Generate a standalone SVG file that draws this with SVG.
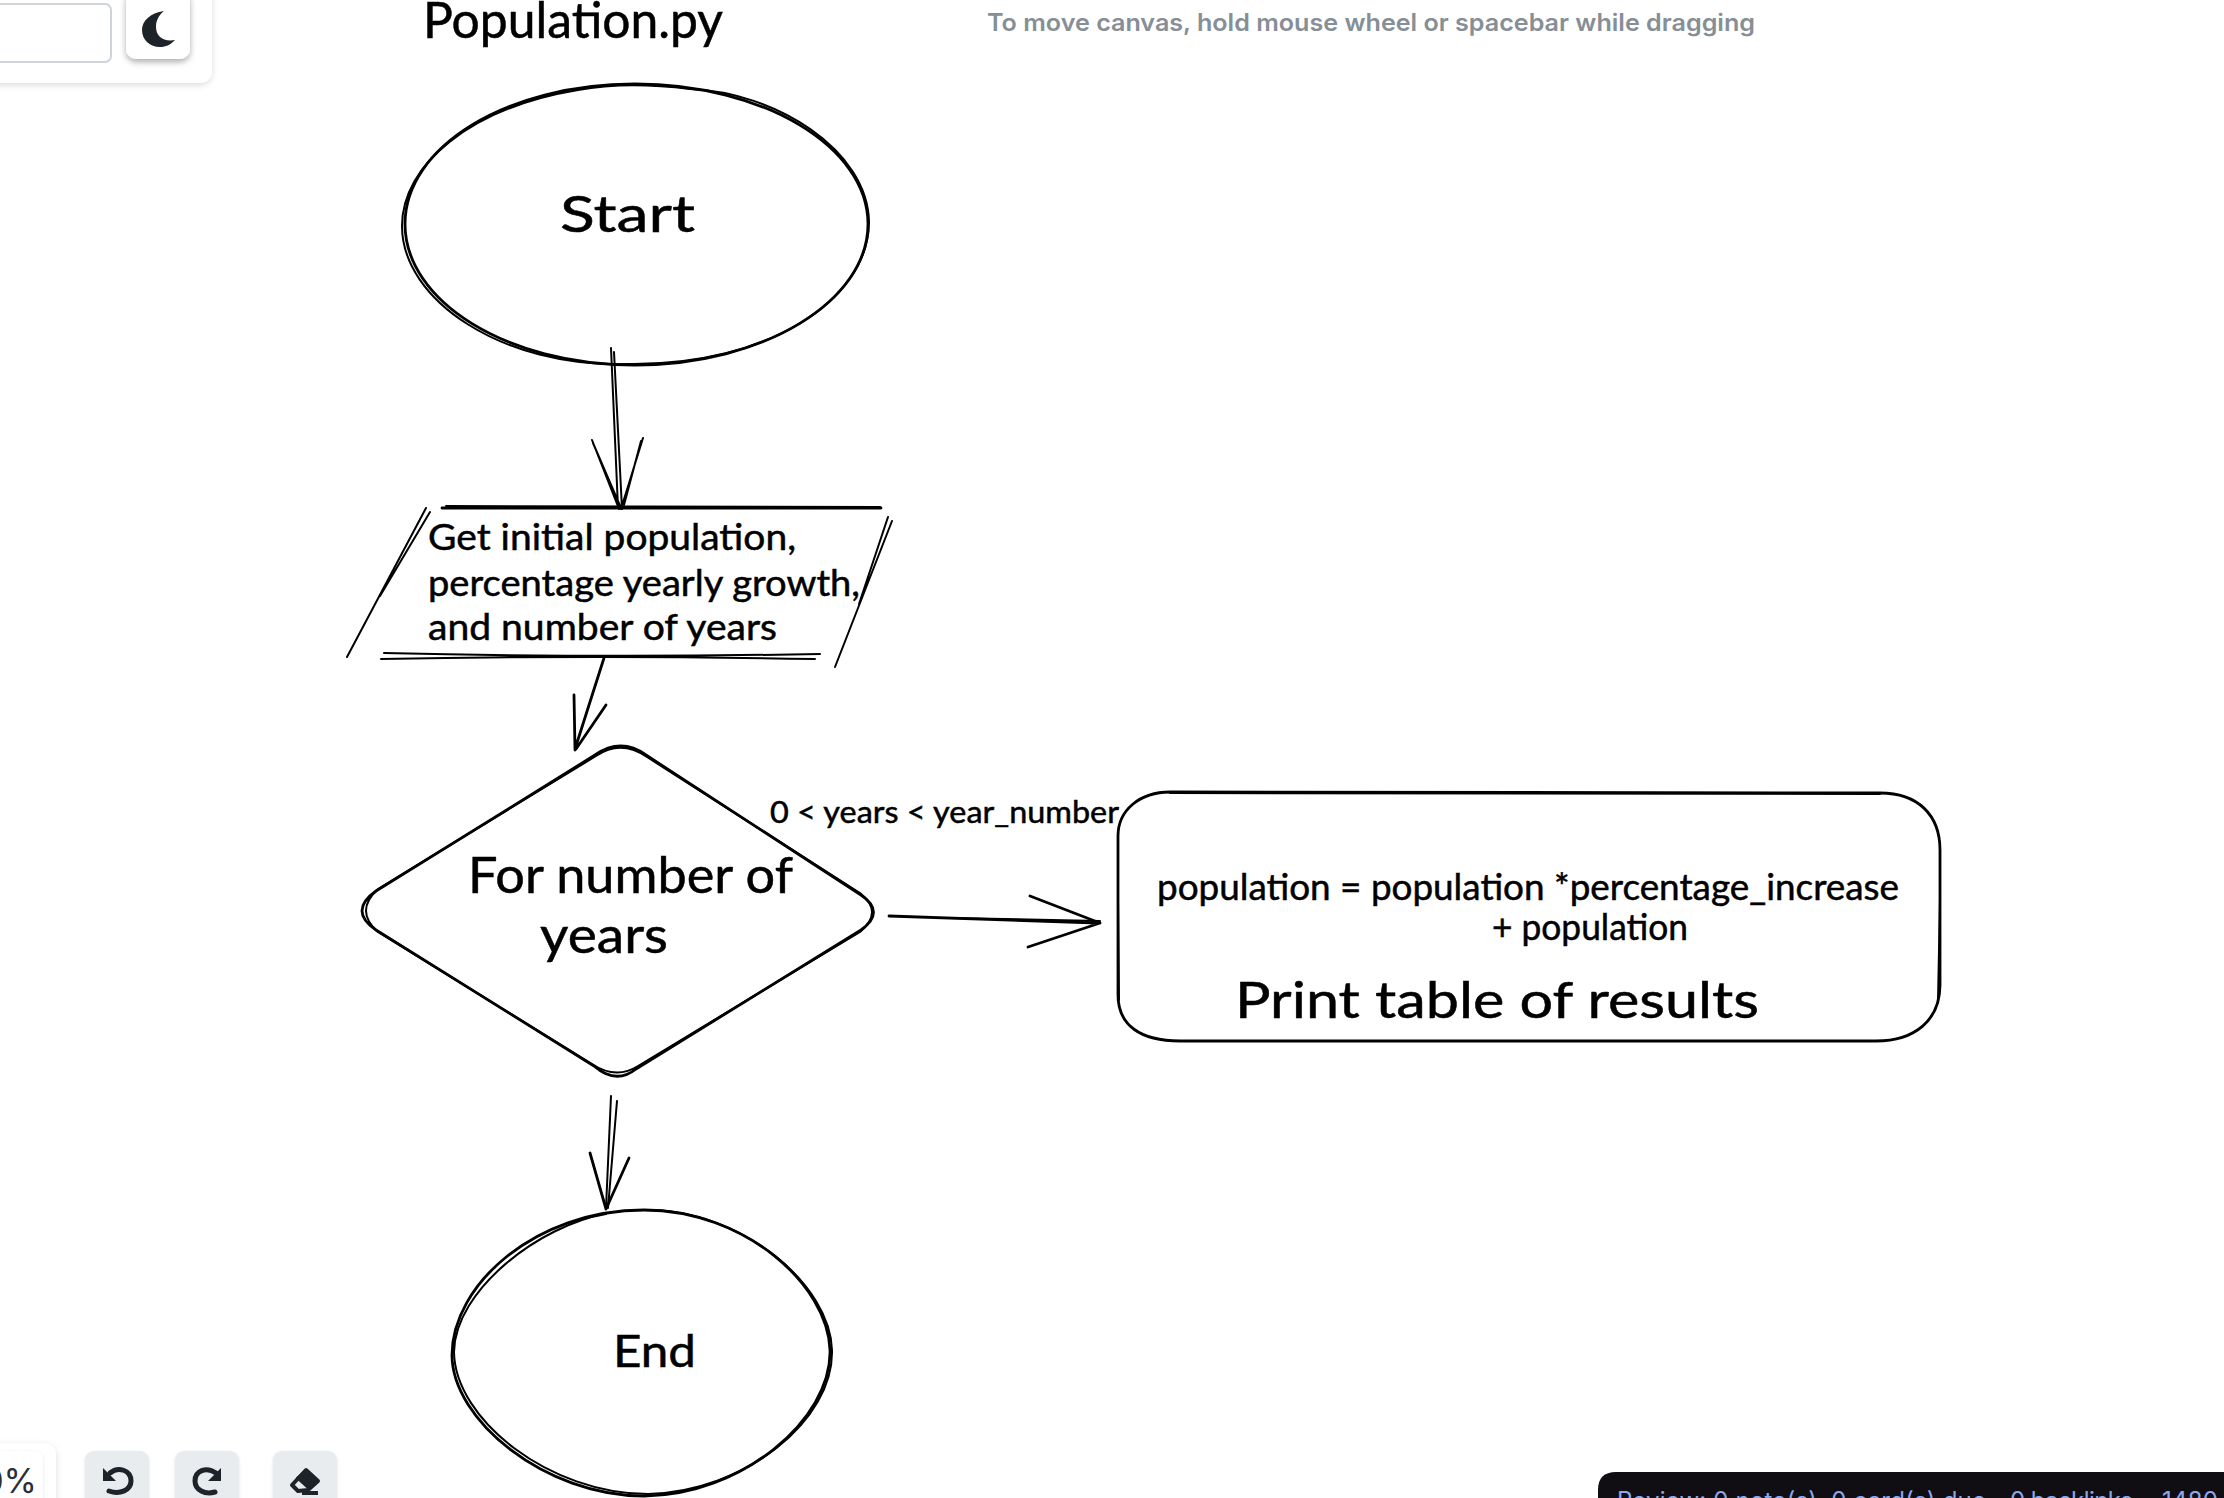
<svg xmlns="http://www.w3.org/2000/svg" width="2224" height="1498" viewBox="0 0 2224 1498">
<style>
.s{fill:none;stroke:#000;stroke-width:2.8;stroke-linecap:round;stroke-linejoin:round}
.t{fill:none;stroke:#000;stroke-width:2;stroke-linecap:round;stroke-linejoin:round}
.h{font-family:"Lato","Noto Sans",sans-serif;fill:#000;stroke:#000;stroke-width:.5}
.btn{fill:#e9ecef;filter:url(#sl)}
.ic{fill:none;stroke:#1e2229;stroke-width:5;stroke-linecap:round;stroke-linejoin:round}
.rv{font-family:Inter,sans-serif;font-size:24px;fill:#8aa8f0}
</style>
<defs>
<filter id="sh" x="-20%" y="-20%" width="140%" height="140%"><feDropShadow dx="0" dy="2" stdDeviation="3" flood-color="#000" flood-opacity=".14"/></filter>
<filter id="sb" x="-30%" y="-30%" width="160%" height="160%"><feDropShadow dx="0" dy="3" stdDeviation="3" flood-color="#000" flood-opacity=".32"/></filter>
<filter id="sl" x="-20%" y="-20%" width="140%" height="140%"><feDropShadow dx="0" dy="1" stdDeviation="1.5" flood-color="#000" flood-opacity=".12"/></filter>
</defs>
<rect width="2224" height="1498" fill="#fff"/>
<g id="ui-top">
<rect x="-30" y="-30" width="242" height="113" rx="12" fill="#fff" filter="url(#sh)"/>
<rect x="-20" y="4" width="131" height="58" rx="6" fill="#fff" stroke="#ced4da" stroke-width="2"/>
<rect x="126" y="-10" width="64" height="69" rx="10" fill="#fff" filter="url(#sb)"/>
<path d="M164 11C150 13 142 21 142 30C142 40 150 47 160 47C166 47 170 45 175 40C163 42 156 36 156 27C156 20 159 15 164 11Z" fill="#1e2229"/>
<text x="987" y="31" font-family="Inter,sans-serif" font-weight="600" font-size="24" fill="#868e96" textLength="768" lengthAdjust="spacingAndGlyphs">To move canvas, hold mouse wheel or spacebar while dragging</text>
</g>
<g id="title"><text class="h" x="423" y="38" font-size="50" textLength="300" lengthAdjust="spacingAndGlyphs">Population.py</text></g>
<g id="start">
<path class="s" d="M635 84C764 84 868 147 868 224C868 301 764 365 635 365C506 365 405 301 405 224C405 147 506 84 635 84"/>
<path class="t" d="M578 90C470 108 402 165 402 226C402 300 502 368 628 364C770 366 869 298 869 222C868 150 775 92 690 89C650 84 610 84 578 90"/>
<text class="h" x="560" y="232" font-size="50" textLength="135" lengthAdjust="spacingAndGlyphs">Start</text>
</g>
<g id="input">
<path class="s" d="M442 508L881 508"/>
<path class="t" d="M446 506L880 507M384 653Q600 658 820 654M381 659Q600 655 815 659"/>
<path class="t" d="M426 508L347 657M430 512L380 596M892 521L835 667M888 517L859 604"/>
<text class="h" x="428" y="550" font-size="36" textLength="368" lengthAdjust="spacingAndGlyphs">Get initial population,</text>
<text class="h" x="428" y="596" font-size="36" textLength="432" lengthAdjust="spacingAndGlyphs">percentage yearly growth,</text>
<text class="h" x="428" y="640" font-size="36" textLength="349" lengthAdjust="spacingAndGlyphs">and number of years</text>
</g>
<g id="decision">
<path class="s" d="M595 755Q621 737 646 755L861 895Q886 912 861 930L636 1069Q616 1085 594 1066L376 930Q348 911 376 891Z"/>
<path class="t" d="M596 756Q621 739 647 757L860 893Q884 912 860 932L638 1066Q616 1080 592 1064L378 932Q354 911 378 889Z"/>
<text class="h" x="468" y="893" font-size="50" textLength="325" lengthAdjust="spacingAndGlyphs">For number of</text>
<text class="h" x="540" y="953" font-size="50" textLength="128" lengthAdjust="spacingAndGlyphs">years</text>
</g>
<g id="process">
<path class="s" d="M1170 792L1880 793C1918 793 1940 815 1940 850L1940 985C1940 1020 1915 1041 1876 1041L1180 1041C1140 1041 1118 1025 1118 995L1118 836C1118 810 1140 792 1170 792Z"/>
<path class="t" d="M1170 793L1880 794M1118 900L1119 1000M1940 900L1938 1000"/>
<text class="h" x="1157" y="900" font-size="36" textLength="742" lengthAdjust="spacingAndGlyphs">population = population *percentage_increase</text>
<text class="h" x="1492" y="940" font-size="36" textLength="196" lengthAdjust="spacingAndGlyphs">+ population</text>
<text class="h" x="1235" y="1018" font-size="50" textLength="524" lengthAdjust="spacingAndGlyphs">Print table of results</text>
</g>
<g id="end">
<path class="s" d="M644 1210C745 1210 828 1285 830 1350C832 1420 740 1496 644 1496C545 1496 452 1420 452 1355C452 1285 535 1210 644 1210"/>
<path class="t" d="M606 1214C540 1225 455 1290 454 1352C455 1420 550 1494 648 1494C745 1492 834 1420 832 1350C830 1285 745 1214 655 1210"/>
<text class="h" x="613" y="1367" font-size="44" textLength="83" lengthAdjust="spacingAndGlyphs">End</text>
</g>
<g id="connectors">
<path class="t" d="M611 348L618 508M614 352L622 509M592 440L619 509M593 443L621 508M643 438L621 509M641 441L624 505"/>
<path class="s" d="M604 658L575 749M574 695L575 750M606 705L576 749"/>
<text class="h" x="770" y="823" font-size="31" stroke-width=".3" textLength="349" lengthAdjust="spacingAndGlyphs">0 &lt; years &lt; year_number</text>
<path class="s" d="M889 916L1098 923M1030 896L1100 923M1028 947L1100 923"/>
<path class="t" d="M950 918L1100 921"/>
<path class="t" d="M611 1096L606 1208M617 1101L608 1208"/>
<path class="s" d="M590 1153L606 1209M629 1158L606 1209"/>
</g>
<g id="ui-bottom">
<rect x="-30" y="1443" width="86" height="80" rx="12" fill="#fff" filter="url(#sh)"/>
<rect x="-20" y="1451" width="63" height="60" rx="8" fill="#fff" filter="url(#sl)"/>
<text x="37" y="1493" text-anchor="end" font-family="Inter,sans-serif" font-size="34" fill="#2b3036">0%</text>
<rect class="btn" x="85" y="1451" width="64" height="60" rx="9"/>
<rect class="btn" x="175" y="1451" width="64" height="60" rx="9"/>
<rect class="btn" x="273" y="1451" width="64" height="60" rx="9"/>
<path class="ic" d="M110 1473C118 1466 131 1470 131 1481C131 1490 120 1495 109 1491"/>
<path d="M103 1468V1481H116Z" fill="#1e2229"/>
<path class="ic" d="M216 1473C206 1466 195 1471 195 1481C195 1490 205 1495 215 1492"/>
<path d="M221 1468V1481H208Z" fill="#1e2229"/>
<path d="M306 1470L318 1481L308 1490L298 1491L292 1485Z" fill="#e9ecef" stroke="#1e2229" stroke-width="4" stroke-linejoin="round"/>
<path d="M306 1470L318 1481L309 1489L297 1478Z" fill="#1e2229" stroke="#1e2229" stroke-width="2" stroke-linejoin="round"/>
<path d="M302 1493H318" stroke="#1e2229" stroke-width="4"/>
<path d="M1598 1510V1490Q1598 1472 1616 1472H2224V1510Z" fill="#100e13"/>
<text class="rv" x="1617" y="1509" textLength="369">Review: 0 note(s), 0 card(s) due</text>
<text class="rv" x="2010" y="1509" textLength="123">0 backlinks</text>
<text class="rv" x="2162" y="1509" textLength="56">1480</text>
</g>
</svg>
